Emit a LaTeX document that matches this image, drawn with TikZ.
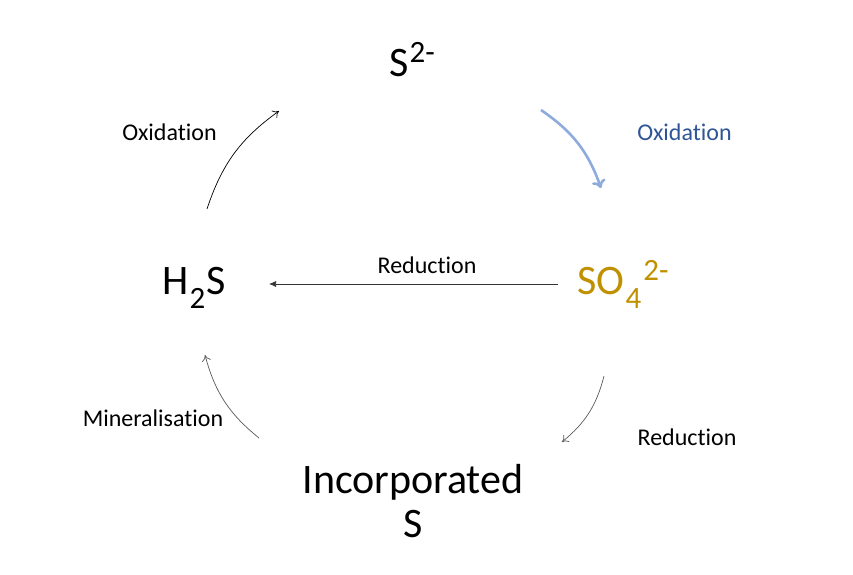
\documentclass[tikz,border=0pt]{standalone}
\usepackage{fontspec}
\setmainfont{Carlito}[Ligatures={NoCommon}]
\usetikzlibrary{arrows.meta}
\definecolor{gold}{HTML}{BF9000}
\definecolor{darkblue}{HTML}{2F5597}
\definecolor{lightblue}{HTML}{8FAADC}
\newcommand{\chemsup}[1]{\kern1pt\raisebox{14pt}{\fontsize{31}{33}\selectfont #1}}
\newcommand{\chemsub}[1]{\kern1pt\raisebox{-14pt}{\fontsize{31}{33}\selectfont #1}\kern1pt}
\tikzset{
  big/.style={font=\fontsize{42}{46}\selectfont, anchor=base, inner sep=0pt},
  lbl/.style={font=\fontsize{24}{28}\selectfont, anchor=base, inner sep=0pt},
  thinarr/.style={-{To[length=6pt,width=9pt]}, line width=0.7pt},
}
\begin{document}
\begin{tikzpicture}[x=1pt,y=-1pt]
\useasboundingbox (0,0) rectangle (853,574);
% species
\node[big] (s2) at (412,76) {S\chemsup{2-}};
\node[big] (h2s) at (194,294) {H\chemsub{2}S};
\node[big, text=gold] (so4) at (623,294) {SO\chemsub{4}\chemsup{2-}};
\node[big] (inc) at (413,493) {Incorporated};
\node[big] (incs) at (413,537) {S};
% labels
\node[lbl] (ox1) at (169.5,140) {Oxidation};
\node[lbl, text=darkblue] (ox2) at (684.5,140) {Oxidation};
\node[lbl] (red1) at (427,273) {Reduction};
\node[lbl] (min) at (153,426) {Mineralisation};
\node[lbl] (red2) at (687,445) {Reduction};
% arrow ends
\coordinate (a1s) at (207,209); \coordinate (a1e) at (279,111);
\coordinate (a2s) at (541,110); \coordinate (a2e) at (601,188);
\coordinate (a3s) at (604,376); \coordinate (a3e) at (562,442);
\coordinate (a4s) at (259,438); \coordinate (a4e) at (205,355);
\coordinate (a5s) at (558,284); \coordinate (a5e) at (269,284);
% arrows
\draw[thinarr, black] (a1s) to[bend left=18] (a1e);
\draw[-{To[length=8pt,width=14pt]}, line width=2.6pt, lightblue] (a2s) to[bend left=18] (a2e);
\draw[thinarr, black!65] (a3s) to[bend left=18] (a3e);
\draw[thinarr, black!65] (a4s) to[bend left=18] (a4e);
\draw[-{Latex[length=7pt,width=6pt]}, line width=0.7pt, black!80] (a5s) -- (a5e);
\end{tikzpicture}
\end{document}
